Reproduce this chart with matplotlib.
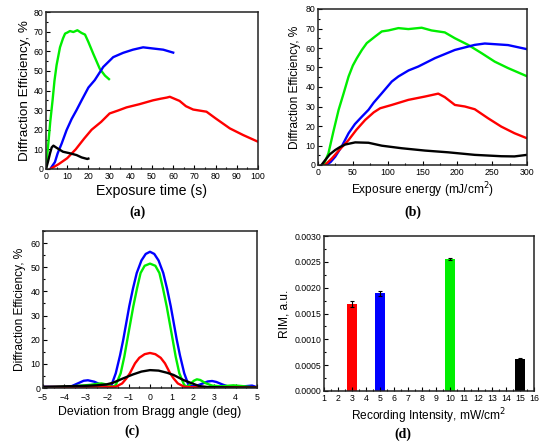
import matplotlib
matplotlib.use("Agg")
import matplotlib.pyplot as plt
from matplotlib.ticker import MultipleLocator, FormatStrFormatter

plt.rcParams['font.family'] = ['Liberation Sans', 'DejaVu Sans']

RED, BLUE, GREEN, BLACK = '#FF0000', '#0000FF', '#00EE00', '#000000'

# ---- panel (a): DE vs exposure time ----
a_green_t = [0, 1.1, 2, 3.1, 4, 5, 6.6, 8, 9, 10, 11.3, 12.9, 14.8, 16.8, 18.4, 20, 22.3, 25.4, 27.8, 29.7]
a_green_y = [0, 13, 24, 35, 45, 53, 62, 66.5, 69, 69.5, 70.3, 69.8, 70.7, 69.3, 68.5, 64.7, 58.7, 51, 47.6, 45.8]
a_blue_t = [2, 4.2, 5.5, 7.4, 9.7, 12.1, 14.4, 16.8, 20, 23, 27, 31.7, 36.4, 41, 45.8, 50.5, 55.3, 60]
a_blue_y = [0, 3.5, 8, 13, 19.8, 25.5, 30, 35, 41.5, 45.3, 52, 57, 59.2, 60.8, 62.0, 61.4, 60.8, 59.3]
a_red_t = [2, 6, 10, 14, 18, 21.5, 26, 30, 34, 38, 44, 50.5, 54, 57, 58.4, 63, 66, 69.4, 75.7, 80, 86.7, 93, 100]
a_red_y = [0, 2.5, 5.5, 10, 15.5, 20, 24, 28.3, 29.8, 31.4, 33, 35, 35.8, 36.4, 36.8, 34.7, 32, 30.3, 29.2, 25.8, 20.7, 17.3, 13.9]
a_black_t = [0, 1, 1.9, 2.7, 3.5, 5, 6.5, 8, 11.3, 14.4, 16.8, 19.5, 20]
a_black_y = [0, 4, 8, 11, 11.9, 10.8, 9.8, 8.8, 8.0, 7.1, 5.9, 5.1, 5.3]

# ---- panel (b): DE vs exposure energy ----
b_green_e = [8, 15, 22, 29.6, 37, 43.9, 50, 55.8, 63, 70, 82, 91.6, 101, 115.4, 129.7, 148.8, 163, 182, 196.5, 215.5, 234.6, 253.7, 272.8, 300]
b_green_y = [0, 6, 17, 28.3, 37, 45.4, 51, 54.8, 59, 62.5, 65.9, 68.5, 69, 70.2, 69.7, 70.4, 69, 68, 65, 61.6, 57.4, 53, 49.7, 45.5]
b_blue_e = [12, 18, 24.8, 34, 43.9, 53, 63, 72.5, 80, 91.6, 105.9, 115.4, 130, 144, 167.9, 196.5, 225, 239.4, 272.8, 300]
b_blue_y = [0, 1.5, 4.3, 9.5, 16.3, 21, 24.8, 28.3, 32, 36.8, 42.8, 45.4, 48.5, 50.5, 54.8, 59, 61.6, 62.3, 61.5, 59.4]
b_red_e = [10, 20, 30, 43.9, 55, 67.7, 80, 89.2, 105.9, 129.7, 153.5, 172.6, 182, 196.5, 210.8, 225, 244, 263, 282, 300]
b_red_y = [0, 3.4, 7.5, 12.8, 18, 23.1, 27, 29.1, 30.8, 33.4, 35.1, 36.6, 34.8, 30.8, 30, 28.6, 24, 19.7, 16.3, 13.7]
b_black_e = [5, 10.5, 17, 24.8, 32, 39, 53.4, 72.5, 91.6, 120, 153.5, 187, 225, 263, 282, 300]
b_black_y = [0, 2.6, 5.5, 7.7, 9.3, 10.5, 11.6, 11.4, 9.9, 8.6, 7.4, 6.5, 5.2, 4.5, 4.4, 5.2]

# ---- panel (c): angular selectivity ----
c_blue_x = [-5, -4.5, -4, -3.7, -3.4, -3.1, -2.9, -2.6, -2.3, -2.03, -1.8, -1.6, -1.4, -1.25, -0.97, -0.8, -0.62, -0.4, -0.2, 0,
            0.2, 0.4, 0.62, 0.8, 0.97, 1.25, 1.4, 1.6, 1.8, 2.0, 2.2, 2.5, 2.7, 2.9, 3.1, 3.4, 3.7, 4.0, 4.4, 4.77, 5]
c_blue_y = [0.5, 0.4, 0.3, 0.6, 1.8, 3.0, 3.2, 2.6, 1.4, 0.7, 1.2, 6.1, 13.5, 20, 33.8, 41, 47.6, 52.8, 55.5, 56.4,
            55.5, 52.8, 47.6, 41, 33.8, 20, 13.5, 6.1, 1.2, 0.7, 1.0, 2.0, 2.7, 2.9, 2.5, 1.4, 0.5, 0.6, 0.7, 1.0, 0.3]
c_green_x = [-5, -4.5, -4, -3.5, -3.2, -2.8, -2.5, -2.27, -2.0, -1.75, -1.6, -1.37, -1.2, -1.06, -0.78, -0.6, -0.44, -0.25, 0,
             0.25, 0.44, 0.6, 0.78, 1.06, 1.2, 1.37, 1.6, 1.75, 1.9, 2.05, 2.19, 2.35, 2.6, 2.9, 3.3, 3.6, 3.9, 4.3, 4.7, 5]
c_green_y = [0.2, 0.3, 0.5, 0.8, 1.0, 1.3, 1.7, 1.9, 1.4, 0.5, 1.2, 6.1, 13, 20, 33.8, 41.5, 47.6, 50.6, 51.5,
             50.6, 47.6, 41.5, 33.8, 20, 13, 6.1, 1.2, 0.5, 1.8, 3.0, 3.6, 3.3, 2.0, 1.0, 0.7, 0.9, 1.1, 0.8, 0.4, 0.2]
c_red_x = [-5, -4, -3, -2.5, -2, -1.6, -1.3, -1.1, -0.94, -0.7, -0.5, -0.25, 0, 0.25, 0.5, 0.7, 0.94, 1.1, 1.3, 1.6, 2, 2.5, 3, 4, 5]
c_red_y = [0.4, 0.4, 0.5, 0.6, 0.5, 0.5, 1.9, 4.0, 6.1, 10.2, 12.5, 14.0, 14.5, 14.0, 12.5, 10.2, 6.1, 4.0, 1.9, 0.5, 0.3, 0.3, 0.3, 0.2, 0.2]
c_black_x = [-5, -4, -3, -2.5, -2.03, -1.72, -1.25, -0.8, -0.4, 0, 0.4, 0.8, 1.1, 1.56, 2.03, 2.3, 2.7, 3.2, 4, 5]
c_black_y = [0.5, 0.7, 0.9, 1.1, 1.5, 2.2, 4.0, 5.6, 6.8, 7.4, 7.2, 6.3, 5.4, 3.3, 1.7, 0.8, 0.4, 0.3, 0.2, 0.2]

# ---- panel (d): RIM vs recording intensity ----
d_intensity = [3, 5, 10, 15]
d_rim = [0.00168, 0.00189, 0.00255, 0.00062]
d_err = [0.00006, 0.00005, 0.00002, 0.00001]
d_colors = [RED, BLUE, GREEN, BLACK]

W, H = 550, 446
fig = plt.figure(figsize=(W / 100, H / 100), dpi=100)

def ax_px(l, t, r, b):
    return fig.add_axes([l / W, (H - b) / H, (r - l) / W, (b - t) / H])

axa = ax_px(46, 12, 258, 169)
axb = ax_px(318, 9, 527, 165)
axc = ax_px(43, 231, 257, 388)
axd = ax_px(324, 236, 534, 391)

LW = 1.7
TICK_FS = 6.3
LAB_FS = 8.6

def style(ax, xpad=2.5):
    for s in ax.spines.values():
        s.set_linewidth(1.1)
        s.set_color('#222222')
    ax.tick_params(which='both', direction='in', top=False, right=False, labelsize=TICK_FS, width=0.8)
    ax.tick_params(axis='y', pad=2)
    ax.tick_params(axis='x', pad=xpad)
    ax.tick_params(which='major', length=3)
    ax.tick_params(which='minor', length=1.6)

# (a)
axa.plot(a_green_t, a_green_y, color=GREEN, lw=LW)
axa.plot(a_blue_t, a_blue_y, color=BLUE, lw=LW)
axa.plot(a_red_t, a_red_y, color=RED, lw=LW)
axa.plot(a_black_t, a_black_y, color=BLACK, lw=LW)
axa.set_xlim(0, 100); axa.set_ylim(0, 80)
axa.xaxis.set_major_locator(MultipleLocator(10)); axa.xaxis.set_minor_locator(MultipleLocator(5))
axa.yaxis.set_major_locator(MultipleLocator(10)); axa.yaxis.set_minor_locator(MultipleLocator(5))
style(axa)
axa.set_xlabel('Exposure time (s)', fontsize=10.2, labelpad=2)
axa.set_ylabel('Diffraction Efficiency, %', fontsize=9.7, labelpad=2)

# (b)
axb.plot(b_green_e, b_green_y, color=GREEN, lw=LW)
axb.plot(b_blue_e, b_blue_y, color=BLUE, lw=LW)
axb.plot(b_red_e, b_red_y, color=RED, lw=LW)
axb.plot(b_black_e, b_black_y, color=BLACK, lw=LW)
axb.set_xlim(0, 300); axb.set_ylim(0, 80)
axb.xaxis.set_major_locator(MultipleLocator(50)); axb.xaxis.set_minor_locator(MultipleLocator(25))
axb.yaxis.set_major_locator(MultipleLocator(10)); axb.yaxis.set_minor_locator(MultipleLocator(5))
style(axb)
axb.set_xlabel('Exposure energy (mJ/cm$^2$)', fontsize=LAB_FS, labelpad=2)
axb.set_ylabel('Diffraction Efficiency, %', fontsize=LAB_FS, labelpad=3)

# (c)
axc.plot(c_blue_x, c_blue_y, color=BLUE, lw=LW)
axc.plot(c_green_x, c_green_y, color=GREEN, lw=LW)
axc.plot(c_red_x, c_red_y, color=RED, lw=LW)
axc.plot(c_black_x, c_black_y, color=BLACK, lw=LW)
axc.set_xlim(-5, 5); axc.set_ylim(0, 65)
axc.xaxis.set_major_locator(MultipleLocator(1)); axc.xaxis.set_minor_locator(MultipleLocator(0.5))
axc.yaxis.set_major_locator(MultipleLocator(10)); axc.yaxis.set_minor_locator(MultipleLocator(5))
style(axc, xpad=3.5)
axc.set_xlabel('Deviation from Bragg angle (deg)', fontsize=8.9, labelpad=3)
axc.set_ylabel('Diffraction Efficiency, %', fontsize=LAB_FS, labelpad=3)

# (d)
axd.bar(d_intensity, d_rim, width=0.65, color=d_colors, yerr=d_err,
        error_kw=dict(ecolor='black', elinewidth=0.8, capsize=1.5, capthick=0.8))
axd.set_xlim(1, 16); axd.set_ylim(0, 0.003)
axd.xaxis.set_major_locator(MultipleLocator(1)); axd.xaxis.set_minor_locator(MultipleLocator(0.5))
axd.yaxis.set_major_locator(MultipleLocator(0.0005)); axd.yaxis.set_minor_locator(MultipleLocator(0.00025))
axd.yaxis.set_major_formatter(FormatStrFormatter('%.4f'))
style(axd)
axd.set_xlabel('Recording Intensity, mW/cm$^2$', fontsize=LAB_FS, labelpad=2)
axd.set_ylabel('RIM, a.u.', fontsize=LAB_FS, labelpad=3)

# panel letters
for x, y, s in [(137, 212, '(a)'), (413, 212, '(b)'), (132, 431, '(c)'), (403, 434, '(d)')]:
    fig.text(x / W, 1 - y / H, s, ha='center', va='center', fontsize=10, weight='bold',
             family=['Liberation Serif', 'DejaVu Serif'])

fig.savefig('out.png', dpi=100)
